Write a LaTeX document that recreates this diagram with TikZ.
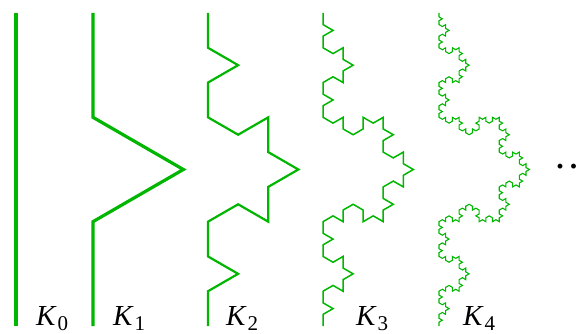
\documentclass[tikz,border=0pt]{standalone}
\usepackage{fontspec}
\setmainfont{Liberation Serif}
\usetikzlibrary{lindenmayersystems}
\pgfdeclarelindenmayersystem{KochLine}{\rule{F -> F+F--F+F}}
\definecolor{kgreen}{RGB}{0,182,0}
\tikzset{
  kline/.style={draw=kgreen, line join=miter},
  klabel/.style={anchor=base west, inner sep=0pt, font=\fontsize{29}{29}\selectfont\itshape},
}
\newcommand{\klab}[1]{K\hspace{2pt}\raisebox{-5pt}{\fontsize{21}{21}\selectfont\upshape #1}}
\begin{document}
\begin{tikzpicture}[x=1pt,y=1pt]
\useasboundingbox (0,0) rectangle (581,333);
% K0
\coordinate (k0t) at (16,320);
\coordinate (k0b) at (16,7);
\draw[kline, line width=4pt] (k0t) -- (k0b);
% K1..K4
\foreach \xx/\ord/\lw in {93/1/3.2pt, 208/2/2.2pt, 323/3/1.5pt, 439/4/1.1pt}{
  \begin{scope}[shift={(\xx,320)}, rotate=-90]
    \draw[kline, line width=\lw, l-system={KochLine, axiom=F, order=\ord, step=313pt/(3^\ord), angle=60}] (0,0) lindenmayer system;
  \end{scope}
}
% labels
\node[klabel] (l0) at (36,8) {\klab{0}};
\node[klabel] (l1) at (113,8) {\klab{1}};
\node[klabel] (l2) at (226,8) {\klab{2}};
\node[klabel] (l3) at (356,8) {\klab{3}};
\node[klabel] (l4) at (463,8) {\klab{4}};
\node[anchor=base west, inner sep=0pt, font=\fontsize{30}{30}\selectfont\bfseries] (dots) at (555,157) {·\hspace{3.5pt}·\hspace{3.5pt}·};
\end{tikzpicture}
\end{document}
